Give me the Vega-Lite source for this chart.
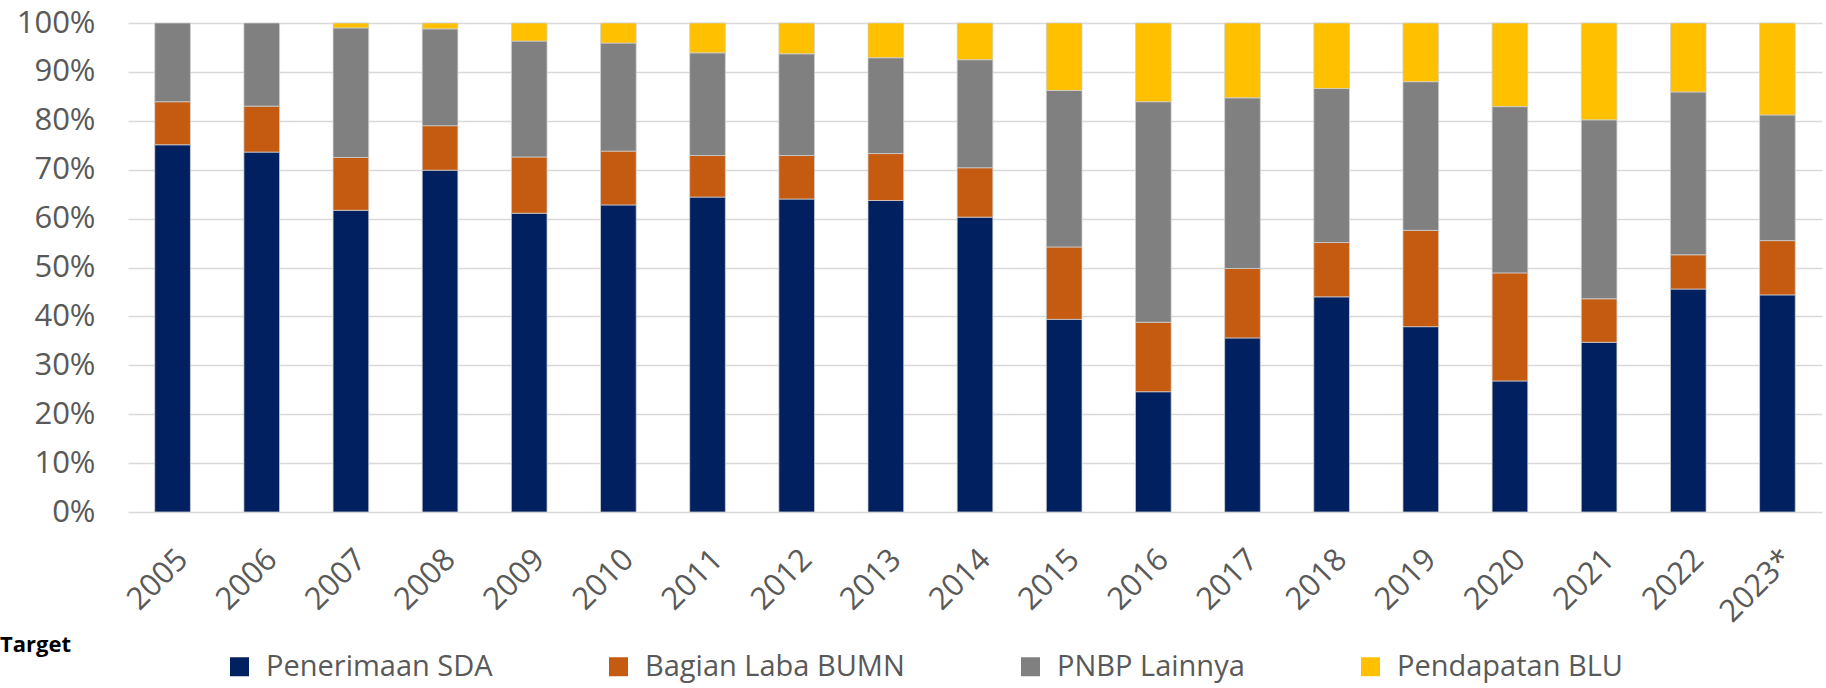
{
  "$schema": "https://vega.github.io/schema/vega-lite/v6.json",
  "autosize": {"type": "none"},
  "width": 1694,
  "height": 489,
  "padding": {"left": 128, "top": 23, "right": 4, "bottom": 176},
  "background": "white",
  "data": {"values": [
    {"year":"2005","cat":"Penerimaan SDA","o":1,"v":75.1},{"year":"2005","cat":"Bagian Laba BUMN","o":2,"v":8.8},{"year":"2005","cat":"PNBP Lainnya","o":3,"v":16.1},
    {"year":"2006","cat":"Penerimaan SDA","o":1,"v":73.6},{"year":"2006","cat":"Bagian Laba BUMN","o":2,"v":9.4},{"year":"2006","cat":"PNBP Lainnya","o":3,"v":17.0},
    {"year":"2007","cat":"Penerimaan SDA","o":1,"v":61.7},{"year":"2007","cat":"Bagian Laba BUMN","o":2,"v":10.8},{"year":"2007","cat":"PNBP Lainnya","o":3,"v":26.5},{"year":"2007","cat":"Pendapatan BLU","o":4,"v":1.0},
    {"year":"2008","cat":"Penerimaan SDA","o":1,"v":69.9},{"year":"2008","cat":"Bagian Laba BUMN","o":2,"v":9.1},{"year":"2008","cat":"PNBP Lainnya","o":3,"v":19.8},{"year":"2008","cat":"Pendapatan BLU","o":4,"v":1.2},
    {"year":"2009","cat":"Penerimaan SDA","o":1,"v":61.1},{"year":"2009","cat":"Bagian Laba BUMN","o":2,"v":11.5},{"year":"2009","cat":"PNBP Lainnya","o":3,"v":23.7},{"year":"2009","cat":"Pendapatan BLU","o":4,"v":3.7},
    {"year":"2010","cat":"Penerimaan SDA","o":1,"v":62.8},{"year":"2010","cat":"Bagian Laba BUMN","o":2,"v":11.0},{"year":"2010","cat":"PNBP Lainnya","o":3,"v":22.1},{"year":"2010","cat":"Pendapatan BLU","o":4,"v":4.1},
    {"year":"2011","cat":"Penerimaan SDA","o":1,"v":64.4},{"year":"2011","cat":"Bagian Laba BUMN","o":2,"v":8.5},{"year":"2011","cat":"PNBP Lainnya","o":3,"v":21.0},{"year":"2011","cat":"Pendapatan BLU","o":4,"v":6.1},
    {"year":"2012","cat":"Penerimaan SDA","o":1,"v":64.0},{"year":"2012","cat":"Bagian Laba BUMN","o":2,"v":8.9},{"year":"2012","cat":"PNBP Lainnya","o":3,"v":20.8},{"year":"2012","cat":"Pendapatan BLU","o":4,"v":6.3},
    {"year":"2013","cat":"Penerimaan SDA","o":1,"v":63.7},{"year":"2013","cat":"Bagian Laba BUMN","o":2,"v":9.6},{"year":"2013","cat":"PNBP Lainnya","o":3,"v":19.6},{"year":"2013","cat":"Pendapatan BLU","o":4,"v":7.1},
    {"year":"2014","cat":"Penerimaan SDA","o":1,"v":60.3},{"year":"2014","cat":"Bagian Laba BUMN","o":2,"v":10.1},{"year":"2014","cat":"PNBP Lainnya","o":3,"v":22.1},{"year":"2014","cat":"Pendapatan BLU","o":4,"v":7.5},
    {"year":"2015","cat":"Penerimaan SDA","o":1,"v":39.4},{"year":"2015","cat":"Bagian Laba BUMN","o":2,"v":14.8},{"year":"2015","cat":"PNBP Lainnya","o":3,"v":32.0},{"year":"2015","cat":"Pendapatan BLU","o":4,"v":13.8},
    {"year":"2016","cat":"Penerimaan SDA","o":1,"v":24.6},{"year":"2016","cat":"Bagian Laba BUMN","o":2,"v":14.2},{"year":"2016","cat":"PNBP Lainnya","o":3,"v":45.1},{"year":"2016","cat":"Pendapatan BLU","o":4,"v":16.1},
    {"year":"2017","cat":"Penerimaan SDA","o":1,"v":35.6},{"year":"2017","cat":"Bagian Laba BUMN","o":2,"v":14.2},{"year":"2017","cat":"PNBP Lainnya","o":3,"v":34.9},{"year":"2017","cat":"Pendapatan BLU","o":4,"v":15.3},
    {"year":"2018","cat":"Penerimaan SDA","o":1,"v":44.0},{"year":"2018","cat":"Bagian Laba BUMN","o":2,"v":11.1},{"year":"2018","cat":"PNBP Lainnya","o":3,"v":31.5},{"year":"2018","cat":"Pendapatan BLU","o":4,"v":13.4},
    {"year":"2019","cat":"Penerimaan SDA","o":1,"v":37.9},{"year":"2019","cat":"Bagian Laba BUMN","o":2,"v":19.7},{"year":"2019","cat":"PNBP Lainnya","o":3,"v":30.4},{"year":"2019","cat":"Pendapatan BLU","o":4,"v":12.0},
    {"year":"2020","cat":"Penerimaan SDA","o":1,"v":26.8},{"year":"2020","cat":"Bagian Laba BUMN","o":2,"v":22.1},{"year":"2020","cat":"PNBP Lainnya","o":3,"v":34.0},{"year":"2020","cat":"Pendapatan BLU","o":4,"v":17.1},
    {"year":"2021","cat":"Penerimaan SDA","o":1,"v":34.7},{"year":"2021","cat":"Bagian Laba BUMN","o":2,"v":8.9},{"year":"2021","cat":"PNBP Lainnya","o":3,"v":36.6},{"year":"2021","cat":"Pendapatan BLU","o":4,"v":19.8},
    {"year":"2022","cat":"Penerimaan SDA","o":1,"v":45.6},{"year":"2022","cat":"Bagian Laba BUMN","o":2,"v":7.0},{"year":"2022","cat":"PNBP Lainnya","o":3,"v":33.3},{"year":"2022","cat":"Pendapatan BLU","o":4,"v":14.1},
    {"year":"2023*","cat":"Penerimaan SDA","o":1,"v":44.4},{"year":"2023*","cat":"Bagian Laba BUMN","o":2,"v":11.1},{"year":"2023*","cat":"PNBP Lainnya","o":3,"v":25.7},{"year":"2023*","cat":"Pendapatan BLU","o":4,"v":18.8}
  ]},
  "mark": {"type": "bar", "stroke": "#d0d0d0", "strokeWidth": 0.75},
  "encoding": {
    "x": {
      "field": "year", "type": "nominal", "sort": null,
      "scale": {"paddingInner": 0.6, "paddingOuter": 0.3},
      "axis": {"title": null, "labelAngle": -45, "labelFontSize": 31, "labelColor": "#595959", "labelFont": "Open Sans", "domain": false, "ticks": false, "labelPadding": 32}
    },
    "y": {
      "field": "v", "type": "quantitative", "stack": "normalize",
      "scale": {"domain": [0, 1]},
      "axis": {"title": null, "format": ".0%", "values": [0,0.1,0.2,0.3,0.4,0.5,0.6,0.7,0.8,0.9,1], "labelFontSize": 31, "labelColor": "#595959", "labelFont": "Open Sans", "domain": false, "ticks": false, "labelPadding": 33, "gridColor": "#d9d9d9", "gridWidth": 1.5}
    },
    "order": {"field": "o", "type": "quantitative"},
    "color": {
      "field": "cat", "type": "nominal",
      "scale": {"domain": ["Penerimaan SDA", "Bagian Laba BUMN", "PNBP Lainnya", "Pendapatan BLU"], "range": ["#002060", "#C55A11", "#808080", "#FFC000"]},
      "legend": {
        "title": "Target", "orient": "none", "legendX": -128, "legendY": 629,
        "direction": "horizontal", "columns": 4, "columnPadding": 111, "padding": 0,
        "titleOrient": "left", "titleAnchor": "start", "titleBaseline": "alphabetic", "titlePadding": 154,
        "titleFontSize": 22, "titleFontWeight": "bold", "titleColor": "#000000", "titleFont": "Open Sans",
        "symbolType": "square", "symbolSize": 361, "symbolStrokeWidth": 0, "symbolOpacity": 1,
        "labelFontSize": 29, "labelColor": "#595959", "labelFont": "Open Sans", "labelOffset": 12, "labelLimit": 400
      }
    }
  },
  "config": {"view": {"stroke": null}}
}
